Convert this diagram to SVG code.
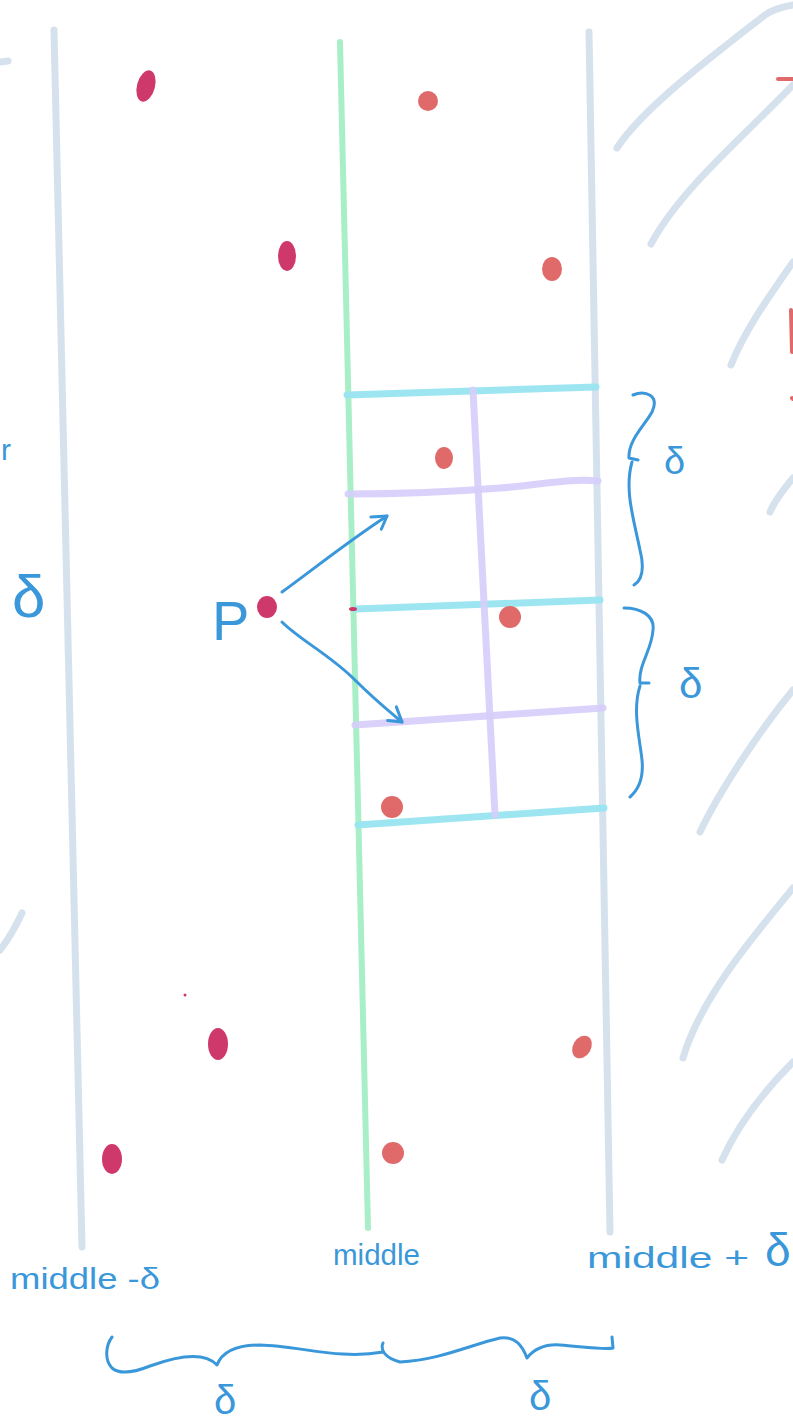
<svg xmlns="http://www.w3.org/2000/svg" width="793" height="1425" viewBox="0 0 793 1425">
<style>
.grey{fill:none;stroke:#d5e2ee;stroke-width:7;stroke-linecap:round}
.green{fill:none;stroke:#a8efc8;stroke-width:6;stroke-linecap:round}
.cyan{fill:none;stroke:#98e5f0;stroke-width:7;stroke-linecap:round;opacity:0.95}
.purple{fill:none;stroke:#d6cdfa;stroke-width:7;stroke-linecap:round;opacity:0.9}
.ink{fill:none;stroke:#3a97da;stroke-width:3;stroke-linecap:round;stroke-linejoin:round}
.red{fill:none;stroke:#e06a6a;stroke-width:4;stroke-linecap:round}
.dk{fill:#cf386b}
.sal{fill:#e06a6a}
.lbl{font-family:"Liberation Sans",Arial,sans-serif;fill:#3a97da}
</style>
<defs>
<marker id="arr" viewBox="0 0 20 20" refX="16" refY="10" markerWidth="20" markerHeight="20" markerUnits="userSpaceOnUse" orient="auto">
<path d="M2,2 L16,10 L4,18" fill="none" stroke="#3a97da" stroke-width="3" stroke-linecap="round" stroke-linejoin="round"/>
</marker>
</defs>
<rect width="793" height="1425" fill="#ffffff"/>

<g id="background-strokes">
<path class="grey" d="M0,62 L8,61"/>
<path class="grey" d="M22,913 C15,928 8,940 0,950"/>
<path class="grey" d="M617,148 C640,112 700,65 765,15 C772,10 782,7 793,5"/>
<path class="grey" d="M651,244 C680,190 740,140 793,85"/>
<path class="grey" d="M731,365 C745,330 770,295 793,262"/>
<path class="grey" d="M770,512 C775,500 783,490 793,478"/>
<path class="grey" d="M700,832 C720,790 760,730 793,690"/>
<path class="grey" d="M683,1058 C700,1000 750,940 793,888"/>
<path class="grey" d="M722,1160 C740,1120 770,1085 793,1062"/>
<path class="red" d="M778,79 L793,79"/>
<path class="red" d="M791,310 L792,352"/>
<path class="red" d="M792,398 L793,399"/>
</g>

<g id="line-middle-minus-delta"><path class="grey" d="M54,30 L82,1247"/></g>
<g id="line-middle"><path class="green" d="M340,42 L368,1228"/></g>
<g id="line-middle-plus-delta"><path class="grey" d="M589,32 L610,1232"/></g>

<g id="grid">
<path class="cyan" d="M347,395 L596,387"/>
<path class="cyan" d="M356,609 L600,600"/>
<path class="cyan" d="M358,825 L604,808"/>
<path class="purple" d="M348,494 C400,494 450,492 500,488 C540,485 570,478 598,481"/>
<path class="purple" d="M355,725 L603,708"/>
<path class="purple" d="M473,390 L495,815"/>
</g>

<g id="points">
<ellipse class="dk" cx="146" cy="86" rx="9" ry="16" transform="rotate(15 146 86)"/>
<ellipse class="dk" cx="287" cy="256" rx="9" ry="15"/>
<ellipse class="dk" cx="267" cy="607" rx="10" ry="11"/>
<ellipse class="dk" cx="218" cy="1044" rx="10" ry="16"/>
<ellipse class="dk" cx="112" cy="1159" rx="10" ry="15"/>
<circle class="dk" cx="185" cy="995" r="1.5"/>
<ellipse class="dk" cx="353" cy="609" rx="4" ry="2"/>
<circle class="sal" cx="428" cy="101" r="10"/>
<ellipse class="sal" cx="552" cy="269" rx="10" ry="12"/>
<ellipse class="sal" cx="444" cy="458" rx="9" ry="11"/>
<circle class="sal" cx="510" cy="617" r="11"/>
<circle class="sal" cx="392" cy="807" r="11"/>
<ellipse class="sal" cx="582" cy="1047" rx="9" ry="12" transform="rotate(30 582 1047)"/>
<circle class="sal" cx="393" cy="1153" r="11"/>
</g>

<g id="connectors">
<path class="ink" d="M282,592 C315,568 350,540 387,516" marker-end="url(#arr)"/>
<path class="ink" d="M282,622 C300,640 330,655 355,680 C375,700 390,712 402,722" marker-end="url(#arr)"/>
</g>

<g id="braces">
<path class="ink" d="M633,395 C645,390 660,395 652,412 C645,425 628,440 629,458 L638,460 M632,462 C624,490 634,520 640,550 C645,570 642,580 634,585"/>
<path class="ink" d="M624,608 C640,608 655,615 653,630 C652,650 638,665 640,683 L649,683 M640,686 C632,710 640,740 642,760 C644,780 638,790 630,797"/>
<path class="ink" d="M112,1337 C106,1345 104,1360 112,1368 C120,1375 135,1372 150,1366 C180,1355 205,1352 217,1365 C222,1352 235,1345 260,1345 C300,1346 340,1360 383,1352 M383,1343 C380,1350 385,1358 400,1362 C440,1360 470,1345 500,1338 C515,1336 522,1345 527,1358 C535,1348 545,1344 560,1345 C585,1347 605,1350 613,1348 L612,1337"/>
</g>

<g id="labels">
<text class="lbl" x="212" y="640" font-size="56">P</text>
<text class="lbl" x="1" y="460" font-size="30">r</text>
<text class="lbl" x="12" y="617" font-size="60">δ</text>
<text class="lbl" x="664" y="474" font-size="38">δ</text>
<text class="lbl" x="679" y="698" font-size="42">δ</text>
<text class="lbl" x="10" y="1289" font-size="30" textLength="150" lengthAdjust="spacingAndGlyphs">middle -δ</text>
<text class="lbl" x="333" y="1265" font-size="30" textLength="87" lengthAdjust="spacingAndGlyphs">middle</text>
<text class="lbl" x="587" y="1268" font-size="30" textLength="162" lengthAdjust="spacingAndGlyphs">middle +</text>
<text class="lbl" x="765" y="1266" font-size="46">δ</text>
<text class="lbl" x="214" y="1414" font-size="40">δ</text>
<text class="lbl" x="529" y="1410" font-size="40">δ</text>
</g>
</svg>
